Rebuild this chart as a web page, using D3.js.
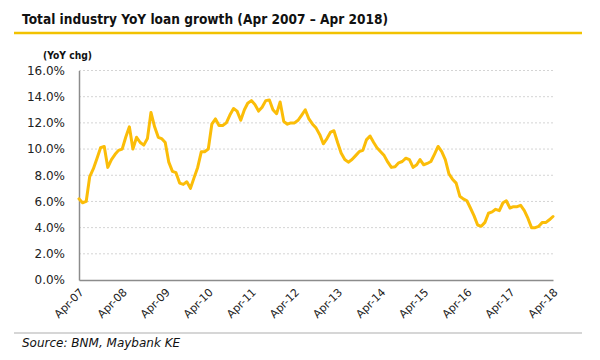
<!DOCTYPE html>
<html><head><meta charset="utf-8">
<script src="https://cdn.jsdelivr.net/npm/d3@7"></script>
<style>body{margin:0;background:#fff}svg{display:block}</style>
</head><body><svg id="c" width="600" height="360"></svg>
<script>
const title = "Total industry YoY loan growth (Apr 2007 – Apr 2018)";
const unitLabel = "(YoY chg)";
const source = "Source: BNM, Maybank KE";
const startMonth = "2007-04";
const growth = [
 6.2,5.9,6.0,7.9,8.5,9.3,10.1,10.2,8.6,9.2,9.6,9.9,
 10.0,10.9,11.7,10.0,10.9,10.5,10.3,10.8,12.8,11.7,10.9,10.8,
 10.5,9.0,8.3,8.2,7.4,7.3,7.5,7.0,7.8,8.6,9.8,9.8,
 10.0,11.9,12.3,11.8,11.8,12.0,12.6,13.1,12.9,12.2,13.0,13.5,
 13.7,13.4,12.9,13.2,13.7,13.75,13.0,12.7,13.6,12.1,11.9,12.0,
 12.0,12.2,12.6,13.0,12.3,11.9,11.6,11.1,10.4,10.8,11.3,11.4,
 10.5,9.7,9.2,9.0,9.2,9.5,9.8,9.9,10.7,11.0,10.5,10.1,
 9.8,9.5,9.0,8.6,8.65,8.95,9.05,9.3,9.2,8.6,8.8,9.2,
 8.8,8.9,9.05,9.6,10.2,9.8,9.2,8.1,7.7,7.4,6.4,6.2,
 6.05,5.5,4.9,4.2,4.1,4.4,5.1,5.2,5.4,5.3,5.9,6.05,
 5.5,5.6,5.6,5.7,5.3,4.7,4.0,4.0,4.1,4.4,4.4,4.6,
 4.85
];
const yTicks = [0,2,4,6,8,10,12,14,16];
const xTickLabels = ["Apr-07","Apr-08","Apr-09","Apr-10","Apr-11","Apr-12","Apr-13","Apr-14","Apr-15","Apr-16","Apr-17","Apr-18"];

const svg = d3.select("#c");
const FONT = "'DejaVu Sans', sans-serif";
const W = {l:79, r:553, t:70.5, b:280};
const t0 = d3.timeParse("%Y-%m")(startMonth);
const dates = growth.map((v,i)=>d3.timeMonth.offset(t0,i));
const x = d3.scaleTime().domain([dates[0], dates[dates.length-1]]).range([W.l, W.r]);
const y = d3.scaleLinear().domain([0,16]).range([W.b, W.t]);

// title
svg.append("text").attr("x",22).attr("y",24).attr("font-family",FONT).attr("font-size",14.5)
  .attr("font-weight","bold").attr("fill","#111").attr("textLength",366).attr("lengthAdjust","spacingAndGlyphs").text(title);
svg.append("line").attr("x1",14).attr("x2",582).attr("y1",33).attr("y2",33)
  .attr("stroke","#f2c200").attr("stroke-width",2.5);
svg.append("text").attr("x",43).attr("y",59).attr("font-family",FONT).attr("font-size",11)
  .attr("font-weight","bold").attr("fill","#111").attr("textLength",49).attr("lengthAdjust","spacingAndGlyphs").text(unitLabel);

// gridlines
svg.append("g").selectAll("line").data(yTicks.filter(d=>d>0)).join("line")
  .attr("x1",W.l).attr("x2",W.r+2).attr("y1",d=>y(d)).attr("y2",d=>y(d))
  .attr("stroke","#d4d4d4").attr("stroke-width",1).attr("stroke-dasharray","2,2");

// y axis
const yAxis = svg.append("g").attr("transform",`translate(${W.l},0)`)
  .call(d3.axisLeft(y).tickValues(yTicks).tickSize(0).tickPadding(14).tickFormat(d=>d.toFixed(1)+"%"));
yAxis.select(".domain").attr("stroke","#8c8c8c").attr("stroke-width",1.5);
yAxis.selectAll("text").attr("font-family",FONT).attr("font-size",12).attr("fill","#222");

// x axis
const xTickDates = xTickLabels.map((s,i)=>d3.timeMonth.offset(t0,i*12));
const xAxis = svg.append("g").attr("transform",`translate(0,${W.b})`)
  .call(d3.axisBottom(x).tickValues(xTickDates).tickSize(0).tickPadding(6).tickFormat((d,i)=>xTickLabels[i]));
xAxis.select(".domain").attr("stroke","#8c8c8c").attr("stroke-width",1.5);
xAxis.selectAll("text").attr("font-family",FONT).attr("font-size",11).attr("fill","#222")
  .attr("text-anchor","end").attr("dy","0.35em")
  .attr("transform","translate(-2,6) rotate(-45)");

// line
svg.append("path").datum(growth).attr("fill","none").attr("stroke","#fbbd08").attr("stroke-width",3)
  .attr("stroke-linejoin","round").attr("stroke-linecap","round")
  .attr("d", d3.line().x((d,i)=>x(dates[i])).y(d=>y(d)));

// footer
svg.append("line").attr("x1",14).attr("x2",582).attr("y1",333).attr("y2",333)
  .attr("stroke","#c8c8c8").attr("stroke-width",1.5);
svg.append("text").attr("x",22).attr("y",347).attr("font-family",FONT).attr("font-size",12)
  .attr("font-style","italic").attr("fill","#111").text(source);
</script></body></html>
